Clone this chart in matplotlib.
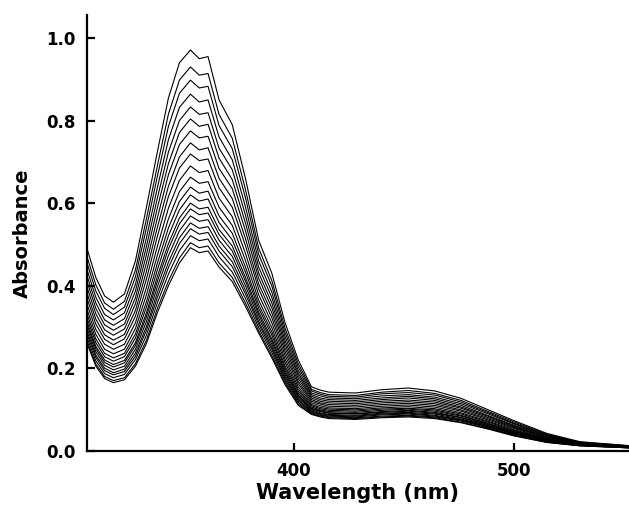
"""
Absorbance spectra recorded over time (21 scans), replotted from the figure.
"""

import numpy as np
import matplotlib.pyplot as plt

wavelength_nm = [306, 310, 314, 318, 323, 328, 333, 338, 343, 348, 353, 357,
                 361, 366, 372, 378, 384, 390, 396, 402, 408, 412, 416, 428,
                 440, 452, 464, 476, 488, 500, 515, 530, 553]

# one row per wavelength, 21 scans per row (highest scan first)
absorbance = [
    [0.490, 0.470, 0.455, 0.439, 0.424, 0.410, 0.396, 0.382, 0.369, 0.355, 0.342, 0.331, 0.321, 0.312, 0.305, 0.297, 0.289, 0.282, 0.274, 0.266, 0.260],
    [0.420, 0.402, 0.387, 0.372, 0.358, 0.345, 0.332, 0.319, 0.307, 0.294, 0.282, 0.271, 0.262, 0.253, 0.247, 0.240, 0.232, 0.226, 0.218, 0.210, 0.205],
    [0.375, 0.358, 0.345, 0.330, 0.317, 0.305, 0.293, 0.281, 0.270, 0.258, 0.246, 0.236, 0.228, 0.220, 0.214, 0.207, 0.200, 0.194, 0.187, 0.180, 0.175],
    [0.360, 0.343, 0.330, 0.317, 0.304, 0.292, 0.280, 0.268, 0.257, 0.246, 0.235, 0.225, 0.217, 0.209, 0.203, 0.196, 0.189, 0.184, 0.177, 0.170, 0.165],
    [0.380, 0.362, 0.348, 0.334, 0.320, 0.307, 0.295, 0.282, 0.271, 0.258, 0.246, 0.236, 0.228, 0.219, 0.213, 0.205, 0.198, 0.192, 0.185, 0.177, 0.172],
    [0.460, 0.438, 0.421, 0.403, 0.387, 0.371, 0.356, 0.340, 0.326, 0.310, 0.296, 0.283, 0.273, 0.262, 0.255, 0.246, 0.237, 0.229, 0.221, 0.211, 0.205],
    [0.590, 0.562, 0.540, 0.516, 0.495, 0.475, 0.455, 0.435, 0.416, 0.396, 0.378, 0.361, 0.348, 0.334, 0.325, 0.313, 0.301, 0.292, 0.280, 0.268, 0.260],
    [0.725, 0.691, 0.666, 0.638, 0.613, 0.589, 0.565, 0.542, 0.520, 0.496, 0.474, 0.455, 0.439, 0.423, 0.411, 0.398, 0.384, 0.372, 0.359, 0.345, 0.335],
    [0.855, 0.816, 0.786, 0.754, 0.724, 0.696, 0.669, 0.641, 0.616, 0.588, 0.562, 0.540, 0.521, 0.502, 0.489, 0.473, 0.457, 0.444, 0.428, 0.411, 0.400],
    [0.940, 0.898, 0.866, 0.832, 0.800, 0.771, 0.742, 0.712, 0.685, 0.655, 0.628, 0.604, 0.584, 0.564, 0.550, 0.533, 0.516, 0.502, 0.485, 0.467, 0.455],
    [0.971, 0.930, 0.898, 0.864, 0.833, 0.804, 0.775, 0.746, 0.719, 0.690, 0.663, 0.639, 0.620, 0.600, 0.586, 0.569, 0.552, 0.538, 0.521, 0.504, 0.492],
    [0.950, 0.910, 0.879, 0.845, 0.815, 0.786, 0.758, 0.729, 0.703, 0.674, 0.648, 0.624, 0.605, 0.586, 0.572, 0.556, 0.539, 0.525, 0.509, 0.492, 0.480],
    [0.955, 0.914, 0.883, 0.850, 0.819, 0.791, 0.762, 0.734, 0.707, 0.679, 0.652, 0.629, 0.610, 0.590, 0.576, 0.560, 0.543, 0.529, 0.513, 0.496, 0.484],
    [0.850, 0.815, 0.788, 0.760, 0.733, 0.709, 0.684, 0.660, 0.637, 0.612, 0.590, 0.569, 0.553, 0.536, 0.524, 0.510, 0.496, 0.484, 0.470, 0.455, 0.445],
    [0.790, 0.757, 0.732, 0.705, 0.681, 0.657, 0.635, 0.611, 0.590, 0.567, 0.546, 0.527, 0.511, 0.496, 0.484, 0.471, 0.458, 0.446, 0.433, 0.420, 0.410],
    [0.660, 0.633, 0.613, 0.591, 0.571, 0.552, 0.533, 0.514, 0.497, 0.478, 0.461, 0.445, 0.433, 0.420, 0.411, 0.400, 0.389, 0.380, 0.369, 0.358, 0.350],
    [0.510, 0.491, 0.476, 0.460, 0.445, 0.431, 0.418, 0.404, 0.392, 0.378, 0.365, 0.354, 0.345, 0.336, 0.329, 0.321, 0.313, 0.307, 0.299, 0.291, 0.285],
    [0.430, 0.412, 0.399, 0.384, 0.371, 0.358, 0.346, 0.334, 0.322, 0.310, 0.298, 0.288, 0.280, 0.271, 0.265, 0.258, 0.251, 0.245, 0.238, 0.230, 0.225],
    [0.310, 0.297, 0.287, 0.277, 0.267, 0.258, 0.249, 0.240, 0.231, 0.222, 0.214, 0.206, 0.200, 0.194, 0.189, 0.184, 0.179, 0.174, 0.169, 0.164, 0.160],
    [0.220, 0.211, 0.203, 0.195, 0.188, 0.182, 0.175, 0.168, 0.162, 0.155, 0.149, 0.144, 0.139, 0.135, 0.132, 0.128, 0.124, 0.121, 0.117, 0.113, 0.110],
    [0.155, 0.149, 0.145, 0.140, 0.136, 0.132, 0.128, 0.124, 0.120, 0.116, 0.112, 0.109, 0.106, 0.103, 0.101, 0.099, 0.096, 0.094, 0.092, 0.090, 0.088],
    [0.147, 0.141, 0.137, 0.133, 0.128, 0.124, 0.120, 0.116, 0.113, 0.109, 0.105, 0.102, 0.099, 0.097, 0.095, 0.092, 0.090, 0.088, 0.086, 0.084, 0.082],
    [0.142, 0.136, 0.132, 0.128, 0.124, 0.120, 0.116, 0.112, 0.108, 0.104, 0.101, 0.098, 0.095, 0.092, 0.091, 0.088, 0.086, 0.084, 0.082, 0.080, 0.078],
    [0.140, 0.134, 0.130, 0.126, 0.122, 0.118, 0.114, 0.110, 0.106, 0.102, 0.099, 0.096, 0.093, 0.090, 0.089, 0.086, 0.084, 0.082, 0.080, 0.078, 0.076],
    [0.148, 0.142, 0.138, 0.133, 0.128, 0.124, 0.120, 0.116, 0.112, 0.108, 0.104, 0.101, 0.098, 0.095, 0.093, 0.091, 0.089, 0.087, 0.084, 0.082, 0.080],
    [0.152, 0.146, 0.141, 0.136, 0.132, 0.128, 0.123, 0.119, 0.115, 0.111, 0.107, 0.103, 0.101, 0.098, 0.096, 0.093, 0.091, 0.089, 0.086, 0.084, 0.082],
    [0.145, 0.139, 0.135, 0.130, 0.126, 0.122, 0.118, 0.114, 0.110, 0.106, 0.102, 0.099, 0.096, 0.093, 0.091, 0.089, 0.086, 0.084, 0.082, 0.080, 0.078],
    [0.127, 0.122, 0.118, 0.114, 0.110, 0.106, 0.103, 0.099, 0.096, 0.092, 0.089, 0.086, 0.084, 0.081, 0.080, 0.077, 0.075, 0.074, 0.072, 0.069, 0.068],
    [0.100, 0.096, 0.093, 0.090, 0.086, 0.084, 0.081, 0.078, 0.075, 0.072, 0.070, 0.067, 0.066, 0.064, 0.062, 0.061, 0.059, 0.058, 0.056, 0.054, 0.053],
    [0.073, 0.070, 0.067, 0.065, 0.062, 0.060, 0.058, 0.056, 0.054, 0.051, 0.049, 0.047, 0.046, 0.044, 0.043, 0.042, 0.041, 0.040, 0.038, 0.037, 0.036],
    [0.042, 0.040, 0.039, 0.037, 0.036, 0.034, 0.033, 0.032, 0.030, 0.029, 0.028, 0.027, 0.026, 0.025, 0.024, 0.024, 0.023, 0.022, 0.021, 0.021, 0.020],
    [0.022, 0.021, 0.020, 0.020, 0.019, 0.019, 0.018, 0.017, 0.017, 0.016, 0.016, 0.015, 0.015, 0.014, 0.014, 0.014, 0.013, 0.013, 0.013, 0.012, 0.012],
    [0.012, 0.012, 0.011, 0.011, 0.011, 0.010, 0.010, 0.010, 0.009, 0.009, 0.009, 0.009, 0.008, 0.008, 0.008, 0.008, 0.008, 0.007, 0.007, 0.007, 0.007],
]

x_ticks = [400, 500]
y_ticks = [0.0, 0.2, 0.4, 0.6, 0.8, 1.0]


def main():
    fig = plt.figure(figsize=(6.29, 5.14), dpi=100)
    ax = fig.add_axes([0.138, 0.123, 0.862, 0.848])

    wl = np.array(wavelength_nm)
    scans = np.array(absorbance).T  # one row per scan
    for scan in scans:
        ax.plot(wl, scan, color="black", linewidth=0.8)

    ax.set_xlim(305.9, 552.3)
    ax.set_ylim(0, 1.056)

    # only left and bottom axes, ticks pointing inwards
    ax.spines["top"].set_visible(False)
    ax.spines["right"].set_visible(False)
    ax.spines["left"].set_linewidth(1.6)
    ax.spines["bottom"].set_linewidth(1.6)
    ax.set_xticks(x_ticks)
    ax.set_yticks(y_ticks)
    ax.set_yticklabels([f"{v:.1f}" for v in y_ticks])
    ax.tick_params(direction="in", length=6, width=1.6, labelsize=12, pad=8)
    for lbl in ax.get_xticklabels() + ax.get_yticklabels():
        lbl.set_fontweight("bold")

    ax.set_xlabel("Wavelength (nm)", fontsize=15, fontweight="bold", labelpad=2)
    ax.set_ylabel("Absorbance", fontsize=14, fontweight="bold", labelpad=10)

    fig.savefig("out.png", dpi=100)


if __name__ == '__main__':
    main()
